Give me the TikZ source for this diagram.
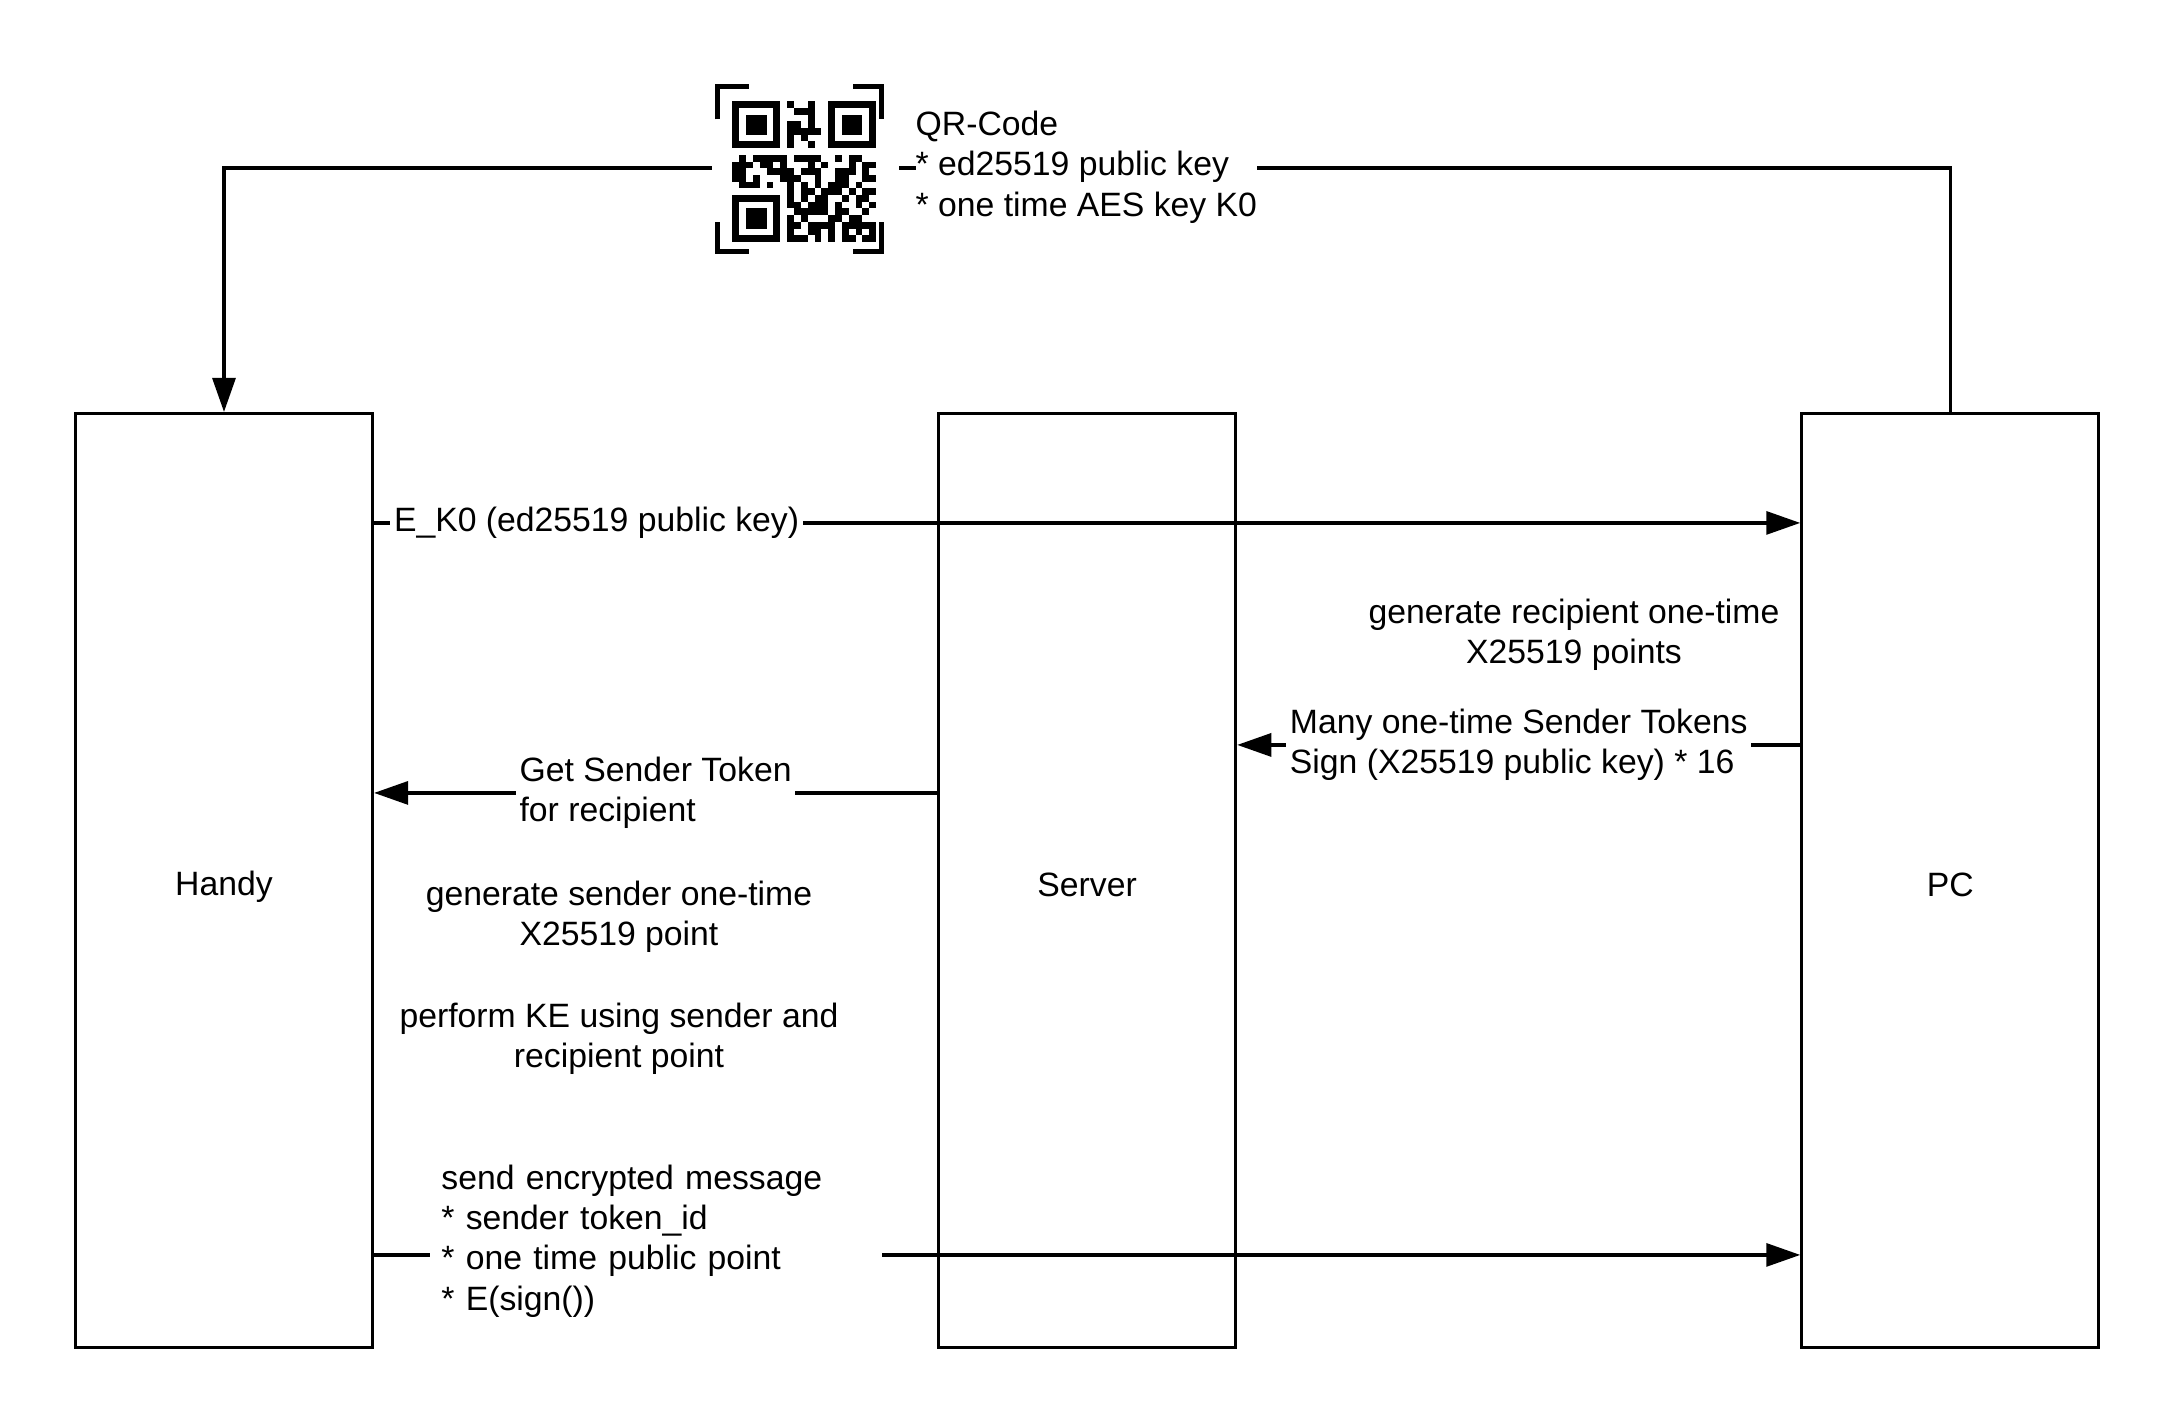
\documentclass[tikz,border=0pt]{standalone}
\usepackage{fontspec}
\setmainfont{Liberation Sans}
\usetikzlibrary{arrows.meta,positioning}

\begin{document}
\begin{tikzpicture}[x=0.1mm,y=-0.1mm,
        node distance=56.3mm,
        font=\fontsize{9.6}{11.5}\selectfont,
        caixa/.style={draw,line width=0.9pt,minimum width=29.7mm,minimum height=93.4mm},
        rotulo/.style={fill=white,inner sep=1pt,align=left},
        texto/.style={align=center},
        seta/.style={-{Triangle[length=3.4mm,width=2.3mm]},line width=0.9pt}]
      \useasboundingbox (0,0) rectangle (2175,1425);
      \node[caixa] (h) at (224,880.5) {\raisebox{-0.6mm}[\height][\depth]{Handy}};
      \node[caixa,right=of h] (s) {\raisebox{-0.4mm}[\height][\depth]{Server}};
      \node[caixa,right=of s] (p) {\raisebox{-0.4mm}[\height][\depth]{PC}};
      \draw[seta] (p.north) -- ++(0,-244) -| (h.north);
      \node[fill=white,inner sep=0pt,minimum width=18.7mm,minimum height=17mm] (qr) at (805.5,170) {};
      \begin{scope}[shift={(qr.north west)},line width=1.4pt]
        \draw (6,35) |- (38,2.5);
        \draw (142,2.5) -| (170.5,35);
        \draw (6,138) |- (38,167.5);
        \draw (142,167.5) -| (170.5,138);
      \end{scope}
      \begin{scope}[shift={([xshift=2.1mm,yshift=-1.7mm]qr.north west)},x=0.685mm,y=-0.67mm]
        \foreach \fx/\fy in {0/0,14/0,0/14}{
          \fill (\fx,\fy) rectangle ++(7,7);
          \fill[white] (\fx+1,\fy+1) rectangle ++(5,5);
          \fill (\fx+2,\fy+2) rectangle ++(3,3);}
        \foreach \r/\a/\b in {0/8/8,0/11/11,1/9/11,2/11/11,3/8/9,3/11/11,4/8/12,5/8/8,5/10/10,6/8/8,6/11/11,
            8/1/1,8/3/7,8/9/12,8/15/15,8/17/18,9/0/2,9/4/5,9/7/7,9/11/11,9/13/13,9/17/17,9/19/20,
            10/0/1,10/5/8,10/10/12,10/15/17,10/19/19,11/0/1,11/3/3,11/7/9,11/12/12,11/15/16,11/19/20,
            12/1/3,12/5/5,12/8/8,12/10/10,12/12/12,12/14/16,12/18/18,13/8/8,13/10/11,13/13/15,13/17/17,13/19/20,
            14/8/8,14/10/10,14/12/13,14/16/16,14/18/19,15/8/9,15/11/13,15/15/15,15/18/18,15/20/20,
            16/9/13,16/15/16,16/19/19,17/8/8,17/10/10,17/14/15,17/17/18,18/8/9,18/11/14,18/16/20,
            19/8/8,19/11/12,19/14/14,19/16/16,19/18/18,19/20/20,20/8/10,20/12/12,20/14/14,20/16/17,20/19/20}
          \fill (\a,\r) rectangle (\b+1,\r+1);
      \end{scope}
      \node[rotulo,inner sep=0pt,anchor=west] (qrt) at (915,167) {QR-Code\\{*} ed25519 public key\\{*} one time AES key K0};
      \draw[seta] ([yshift=-11.1mm]h.north east) -- node[rotulo,pos=.156]{E\_K0 (ed25519 public key)} ([yshift=-11.1mm]p.north west);
      \node[texto] (gr) at (1574,635) {generate recipient one-time\\X25519 points};
      \draw[seta] ([yshift=-33.3mm]p.north west) -- node[rotulo,pos=.5]{Many one-time Sender Tokens\\Sign (X25519 public key) {*} 16} ([yshift=-33.3mm]s.north east);
      \draw[seta] ([yshift=-38.1mm]s.north west) -- node[rotulo,pos=.5]{Get Sender Token\\for recipient} ([yshift=-38.1mm]h.north east);
      \node[texto] (gs) at (619,917) {generate sender one-time\\X25519 point};
      \node[texto] (ke) at (619,1039) {perform KE using sender and\\recipient point};
      \draw[seta] ([yshift=-84.3mm]h.north east) -- node[rotulo,pos=.198,yshift=1.4mm,text width=43mm,inner xsep=1.1mm]{send encrypted message\\{*} sender token\_id\\{*} one time public point\\{*} E(sign())} ([yshift=-84.3mm]p.north west);
    \end{tikzpicture}
\end{document}
